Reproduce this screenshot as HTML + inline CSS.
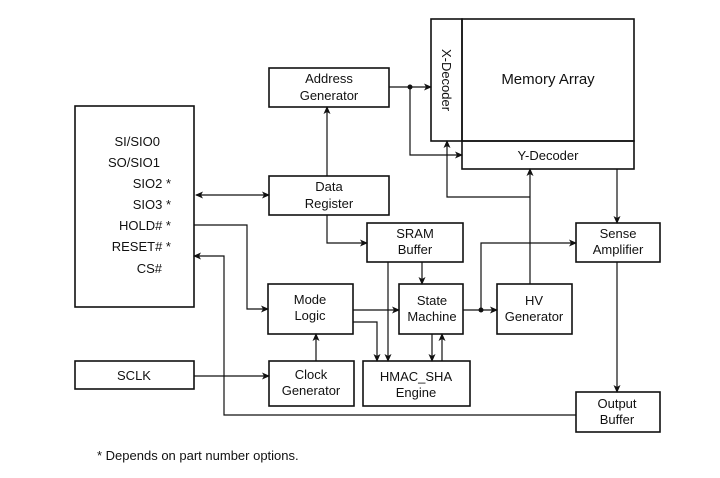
<!DOCTYPE html>
<html><head><style>body{margin:0;background:#fff}svg{display:block}text{font-family:"Liberation Sans",Arial,sans-serif;font-size:13px;fill:#111}</style></head><body>
<svg width="720" height="478" viewBox="0 0 720 478" xmlns="http://www.w3.org/2000/svg">
<defs><marker id="a" markerWidth="8" markerHeight="8" refX="7" refY="4" orient="auto" markerUnits="userSpaceOnUse"><path d="M0,0.5 L8,4 L0,7.5 L2,4z" fill="#111"/></marker>
<marker id="s" markerWidth="8" markerHeight="8" refX="1" refY="4" orient="auto" markerUnits="userSpaceOnUse"><path d="M8,0.5 L0,4 L8,7.5 L6,4z" fill="#111"/></marker></defs>
<g fill="none" stroke="#111" stroke-width="1.6">
<rect x="75" y="106" width="119" height="201"/>
<rect x="269" y="68" width="120" height="39"/>
<rect x="431" y="19" width="31" height="122"/>
<rect x="462" y="19" width="172" height="122"/>
<rect x="462" y="141" width="172" height="28"/>
<rect x="269" y="176" width="120" height="39"/>
<rect x="367" y="223" width="96" height="39"/>
<rect x="268" y="284" width="85" height="50"/>
<rect x="399" y="284" width="64" height="50"/>
<rect x="497" y="284" width="75" height="50"/>
<rect x="576" y="223" width="84" height="39"/>
<rect x="269" y="361" width="85" height="45"/>
<rect x="363" y="361" width="107" height="45"/>
<rect x="75" y="361" width="119" height="28"/>
<rect x="576" y="392" width="84" height="40"/>
</g>
<g fill="none" stroke="#111" stroke-width="1.2">
<path d="M389,87 H431" marker-end="url(#a)"/>
<path d="M410,87 V155 H462" marker-end="url(#a)"/>
<path d="M530,284 V169" marker-end="url(#a)"/>
<path d="M530,197 H447 V141" marker-end="url(#a)"/>
<path d="M196,195 H269" marker-start="url(#s)" marker-end="url(#a)"/>
<path d="M327,176 V107" marker-end="url(#a)"/>
<path d="M327,215 V243 H367" marker-end="url(#a)"/>
<path d="M194,225 H247 V309 H268" marker-end="url(#a)"/>
<path d="M576,415 H224 V256 H194" marker-end="url(#a)"/>
<path d="M617,169 V223" marker-end="url(#a)"/>
<path d="M617,262 V392" marker-end="url(#a)"/>
<path d="M463,310 H497" marker-end="url(#a)"/>
<path d="M481,310 V243 H576" marker-end="url(#a)"/>
<path d="M422,262 V284" marker-end="url(#a)"/>
<path d="M388,262 V361" marker-end="url(#a)"/>
<path d="M353,310 H399" marker-end="url(#a)"/>
<path d="M353,322 H377 V361" marker-end="url(#a)"/>
<path d="M432,334 V361" marker-end="url(#a)"/>
<path d="M442,361 V334" marker-end="url(#a)"/>
<path d="M316,361 V334" marker-end="url(#a)"/>
<path d="M194,376 H269" marker-end="url(#a)"/>
</g>
<circle cx="410" cy="87" r="2.5" fill="#111"/><circle cx="481" cy="310" r="2.5" fill="#111"/>
<g text-anchor="end">
<text x="160" y="146">SI/SIO0</text><text x="160" y="167">SO/SIO1</text>
<text x="171" y="188">SIO2 *</text><text x="171" y="209">SIO3 *</text>
<text x="171" y="230">HOLD# *</text><text x="171" y="251">RESET# *</text>
<text x="162" y="273">CS#</text></g>
<g text-anchor="middle">
<text x="329" y="83">Address</text><text x="329" y="100">Generator</text>
<text x="548" y="84" style="font-size:15px">Memory Array</text>
<text x="548" y="160">Y-Decoder</text>
<text x="329" y="191">Data</text><text x="329" y="208">Register</text>
<text x="415" y="238">SRAM</text><text x="415" y="254">Buffer</text>
<text x="310" y="304">Mode</text><text x="310" y="320">Logic</text>
<text x="432" y="305">State</text><text x="432" y="321">Machine</text>
<text x="534" y="305">HV</text><text x="534" y="321">Generator</text>
<text x="618" y="238">Sense</text><text x="618" y="254">Amplifier</text>
<text x="311" y="379">Clock</text><text x="311" y="395">Generator</text>
<text x="416" y="381">HMAC_SHA</text><text x="416" y="397">Engine</text>
<text x="134" y="380">SCLK</text>
<text x="617" y="408">Output</text><text x="617" y="424">Buffer</text>
<text transform="translate(442,80) rotate(90)" text-anchor="middle">X-Decoder</text>
</g>
<text x="97" y="460">* Depends on part number options.</text>
</svg>
</body></html>
